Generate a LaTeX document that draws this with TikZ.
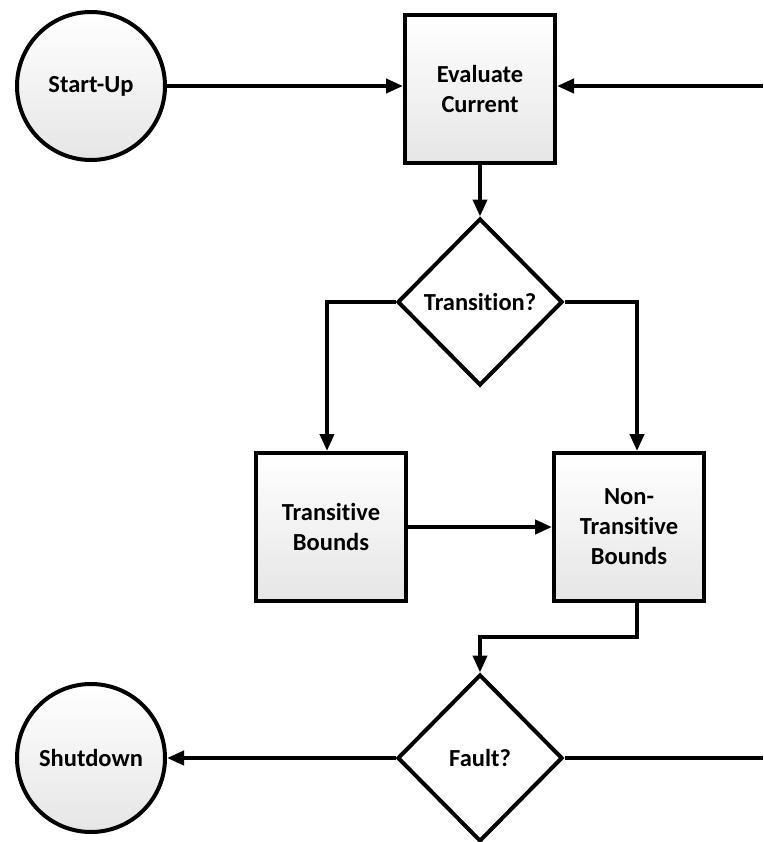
\documentclass[tikz,border=0pt]{standalone}
\usepackage{fontspec}
\setmainfont{Carlito}[Ligatures=NoCommon]
\usetikzlibrary{shapes.geometric,arrows.meta}
\begin{document}
\begin{tikzpicture}[x=1pt,y=-1pt,
  base/.style={draw=black,line width=4pt,font=\fontsize{24.5}{30}\selectfont\bfseries,align=center,inner sep=0pt},
  shadefill/.style={top color=white,bottom color=black!10},
  boxnode/.style={base,shadefill,rectangle,minimum width=150pt,minimum height=148pt},
  circnode/.style={base,shadefill,circle,minimum size=148pt},
  decnode/.style={base,fill=white,diamond,minimum width=165pt,minimum height=167pt},
  conn/.style={line width=4pt,-{Triangle[length=17pt,width=14pt]}},
  wire/.style={line width=4pt}]
\useasboundingbox (0,0) rectangle (763,842);
\node[circnode] (su) at (91,86) {Start-Up};
\node[boxnode] (ev) at (480,89) {Evaluate\\Current};
\node[decnode] (tr) at (480,302) {Transition?};
\node[boxnode] (tb) at (331,527) {Transitive\\Bounds};
\node[boxnode] (nt) at (629,527) {Non-\\Transitive\\Bounds};
\node[decnode] (fa) at (480,758) {Fault?};
\node[circnode] (sd) at (91,758) {Shutdown};
\coordinate (rin) at (763,86);
\coordinate (rout) at (763,758);
\coordinate (bend) at (637,637);
\draw[conn] (su.east) -- (su.east -| ev.west);
\draw[conn] (rin) -- (rin -| ev.east);
\draw[conn] (ev) -- (tr);
\draw[conn] (tr.west) -| ([xshift=-4pt]tb.north);
\draw[conn] (tr.east) -| ([xshift=8pt]nt.north);
\draw[conn] (tb.east) -- (nt.west);
\draw[conn] ([xshift=8pt]nt.south) -- (bend) -| (fa.north);
\draw[conn] (fa.west) -- (sd.east);
\draw[wire] (fa.east) -- (rout);
\end{tikzpicture}
\end{document}
